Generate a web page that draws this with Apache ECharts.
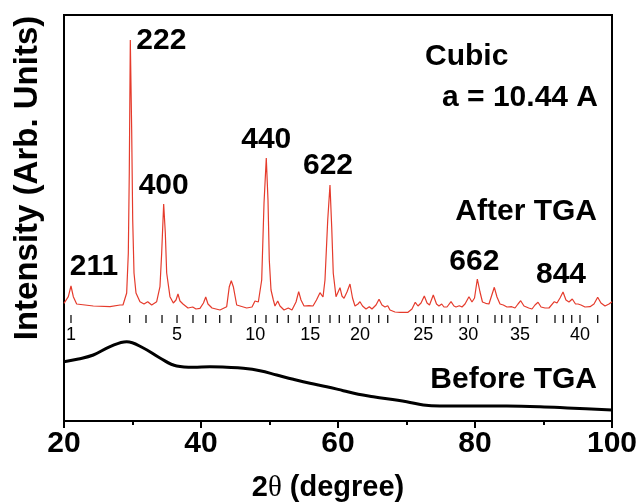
<!DOCTYPE html>
<html>
<head>
<meta charset="utf-8">
<script src="https://cdn.jsdelivr.net/npm/echarts@6/dist/echarts.min.js"></script>
<style>
  html, body { margin: 0; padding: 0; background: #fff; }
  #chart { width: 641px; height: 503px; }
</style>
</head>
<body>
<div id="chart"></div>
<script>
// After TGA pattern, [2theta, intensity]
const afterTga = [
  [20.00, 117.7], [20.63, 124.3], [21.02, 135], [21.36, 124.3], [21.85, 117],
  [24.28, 115], [26.72, 114.3], [28.18, 116], [28.61, 116], [29.15, 128],
  [29.39, 168], [29.53, 248], [29.68, 381], [29.88, 291], [30.03, 201],
  [30.22, 148], [30.51, 128], [31.09, 119.3], [31.68, 117], [32.22, 119.3],
  [32.80, 116], [33.53, 119.3], [34.01, 134.3], [34.26, 168], [34.55, 217],
  [34.79, 188], [34.99, 148], [35.47, 124.3], [35.96, 118], [36.35, 121],
  [36.64, 127], [36.93, 120], [37.37, 117], [38.10, 113], [38.79, 114],
  [39.27, 112], [39.85, 112.7], [40.36, 118], [40.69, 124], [41.02, 117],
  [41.61, 113], [42.77, 111], [43.75, 114.3], [44.13, 134.3], [44.42, 140.3],
  [44.72, 134.3], [45.21, 116], [46.67, 113], [47.45, 114], [47.88, 120],
  [48.37, 119], [48.86, 141], [49.20, 218], [49.53, 263], [49.78, 221],
  [49.97, 161], [50.22, 131], [50.56, 121], [50.80, 115], [51.20, 120],
  [51.53, 115], [52.12, 111], [52.74, 113], [53.28, 111], [53.87, 119],
  [54.26, 129.3], [54.60, 121], [55.04, 115], [55.77, 115.3], [56.35, 115],
  [56.86, 121], [57.37, 128.3], [57.81, 124], [58.10, 141], [58.50, 201],
  [58.83, 236], [59.08, 194.3], [59.31, 147.7], [59.71, 124.3], [60.00, 126],
  [60.29, 133.3], [60.58, 125], [60.88, 122.7], [61.31, 129], [61.75, 137],
  [62.12, 123], [62.48, 115], [62.92, 117], [63.21, 119.3], [63.58, 115],
  [64.09, 112], [64.57, 114.3], [64.96, 112], [65.55, 116], [65.99, 121.7],
  [66.42, 116], [66.86, 114], [67.26, 115.3], [67.59, 111], [68.32, 109],
  [69.05, 108.7], [70.22, 108.7], [70.80, 112], [71.28, 118.7], [71.68, 115],
  [72.12, 118], [72.60, 125], [73.00, 118], [73.36, 116], [73.91, 126],
  [74.38, 117], [74.74, 115], [75.14, 117], [75.47, 114], [75.91, 114],
  [76.50, 119.3], [76.93, 115], [77.23, 114], [77.71, 115.3], [78.10, 114],
  [78.54, 117], [79.12, 124.3], [79.56, 119], [79.93, 123], [80.34, 142],
  [80.73, 129], [81.09, 119], [81.56, 117.7], [82.04, 117], [82.41, 125],
  [82.82, 133.7], [83.21, 124], [83.65, 117], [84.13, 116], [84.67, 114],
  [85.36, 114.3], [85.84, 113], [86.28, 117], [86.67, 120.3], [87.15, 115],
  [87.84, 113], [88.32, 112], [88.76, 116], [89.20, 118.7], [89.64, 114],
  [90.22, 113], [90.80, 113], [91.58, 119.3], [91.97, 118], [92.41, 123],
  [92.85, 129], [93.28, 121], [93.72, 119], [94.20, 122], [94.67, 117],
  [95.04, 117], [95.47, 116], [96.06, 114], [96.79, 114.3], [97.37, 117],
  [97.91, 123.7], [98.39, 118], [98.98, 115], [99.56, 117], [100.00, 119.3]
];

// Before TGA pattern (broad amorphous hump)
const beforeTga = [
  [20.00, 59.3], [22.10, 62], [24.28, 66], [26.72, 74.3], [29.15, 79.3],
  [31.58, 73], [34.01, 63], [36.45, 55], [38.88, 53.7], [41.31, 54.3],
  [43.75, 53.7], [46.18, 52.7], [48.61, 50.3], [51.05, 46], [53.47, 41.7],
  [55.91, 37.7], [58.35, 34.3], [60.77, 30.3], [62.96, 26.7], [65.15, 24.3],
  [70.03, 19.3], [72.45, 16], [74.89, 15], [79.75, 15], [84.63, 15],
  [89.49, 14.3], [94.35, 12.7], [100.00, 11]
];

// reference reflection positions (2theta), numbered from 1
const refTicks = [
  21.02, 29.59, 31.97, 34.31, 36.50, 38.83, 40.69, 42.73, 44.38, 47.93,
  49.49, 51.14, 52.74, 54.35, 55.96, 57.23, 58.83, 60.19, 61.71, 63.21,
  64.57, 65.94, 67.26, 71.34, 72.45, 73.91, 75.14, 76.35, 77.81, 79.02,
  80.39, 82.92, 83.90, 85.11, 86.57, 89.01, 91.68, 92.89, 94.12, 95.33,
  97.91
];
const refTickLabeled = [1, 5, 10, 15, 20, 25, 30, 35, 40];
const refTickLevel = 102;

// indexed peaks
const peakHkl = ['211', '222', '400', '440', '622', '662', '844'];
const peakPos = [21.02, 29.68, 34.55, 49.53, 58.83, 80.34, 92.85];
const peakTop = [135, 381, 217, 263, 236, 142, 129];

const xTicks = [20, 40, 60, 80, 100];

const FONT = '"Liberation Sans", Arial, sans-serif';
const chart = echarts.init(document.getElementById('chart'));

const labelTweaks = {
  '211': { position: 'top', offset: [23, 0], distance: 4 },
  '222': { position: 'right', offset: [0, 1], distance: 6 },
  '622': { position: 'top', offset: [-2, 0], distance: 4 },
  '662': { position: 'top', offset: [-3, 0], distance: 2 },
  '844': { position: 'top', offset: [-2, 0], distance: 2 }
};

const peakData = peakHkl.map((h, i) => ({
  name: h,
  value: [peakPos[i], peakTop[i]],
  label: labelTweaks[h] || {}
}));

const tickData = refTicks.map((t, i) => ({
  value: [t, refTickLevel],
  label: { show: refTickLabeled.indexOf(i + 1) >= 0, formatter: String(i + 1) }
}));

const option = {
  animation: false,
  grid: {
    left: 64, right: 29, top: 15, bottom: 82,
    show: true, borderColor: '#000', borderWidth: 2
  },
  xAxis: {
    type: 'value',
    min: 20, max: 100, interval: 20,
    axisLine: { lineStyle: { color: '#000', width: 2 } },
    axisTick: { length: 7, lineStyle: { color: '#000', width: 2 } },
    minorTick: { show: true, splitNumber: 2, length: 4, lineStyle: { color: '#000', width: 2 } },
    splitLine: { show: false },
    axisLabel: {
      margin: 8, color: '#000', fontSize: 30, fontWeight: 'bold', fontFamily: FONT,
      customValues: xTicks
    }
  },
  yAxis: {
    type: 'value',
    min: 0, max: 406,
    axisLine: { show: true, lineStyle: { color: '#000', width: 2 } },
    axisTick: { show: false },
    axisLabel: { show: false },
    splitLine: { show: false }
  },
  series: [
    {
      name: 'Before TGA',
      type: 'line',
      data: beforeTga,
      smooth: 0.4,
      showSymbol: false,
      lineStyle: { color: '#000', width: 3 },
      z: 2
    },
    {
      name: 'After TGA',
      type: 'line',
      data: afterTga,
      showSymbol: false,
      lineStyle: { color: '#e53b2c', width: 1.2 },
      z: 3
    },
    {
      name: 'reflections',
      type: 'scatter',
      data: tickData,
      symbol: 'rect',
      symbolSize: [1.3, 8],
      itemStyle: { color: '#111', opacity: 1 },
      label: {
        position: 'bottom', distance: 3,
        color: '#000', fontSize: 18, fontFamily: FONT
      },
      silent: true,
      z: 4
    },
    {
      name: 'hkl',
      type: 'scatter',
      data: peakData,
      symbolSize: 0,
      itemStyle: { opacity: 1 },
      label: {
        show: true, formatter: '{b}', position: 'top', distance: 3,
        color: '#000', fontSize: 30, fontWeight: 'bold', fontFamily: FONT
      },
      silent: true,
      z: 5
    }
  ],
  graphic: [
    {
      type: 'text', x: 425, y: 57,
      style: { text: 'Cubic', fill: '#000', fontSize: 30, fontWeight: 'bold', fontFamily: FONT,
        textAlign: 'left', textVerticalAlign: 'middle' }
    },
    {
      type: 'text', x: 598, y: 98,
      style: { text: 'a = 10.44 A', fill: '#000', fontSize: 30, fontWeight: 'bold', fontFamily: FONT,
        textAlign: 'right', textVerticalAlign: 'middle' }
    },
    {
      type: 'text', x: 597, y: 212,
      style: { text: 'After TGA', fill: '#000', fontSize: 30, fontWeight: 'bold', fontFamily: FONT,
        textAlign: 'right', textVerticalAlign: 'middle' }
    },
    {
      type: 'text', x: 597, y: 380,
      style: { text: 'Before TGA', fill: '#000', fontSize: 30, fontWeight: 'bold', fontFamily: FONT,
        textAlign: 'right', textVerticalAlign: 'middle' }
    },
    {
      type: 'text', x: 328, y: 488,
      style: {
        text: '2{t|θ} (degree)', fill: '#000', fontSize: 29, fontWeight: 'bold', fontFamily: FONT,
        textAlign: 'center', textVerticalAlign: 'middle',
        rich: { t: { fontSize: 29, fontWeight: 'normal', fontFamily: '"Liberation Serif", serif', fill: '#000' } }
      }
    },
    {
      type: 'text', x: 28, y: 178, rotation: Math.PI / 2,
      style: { text: 'Intensity (Arb. Units)', fill: '#000', fontSize: 33, fontWeight: 'bold', fontFamily: FONT,
        textAlign: 'center', textVerticalAlign: 'middle' }
    }
  ]
};

chart.setOption(option);
</script>
</body>
</html>
